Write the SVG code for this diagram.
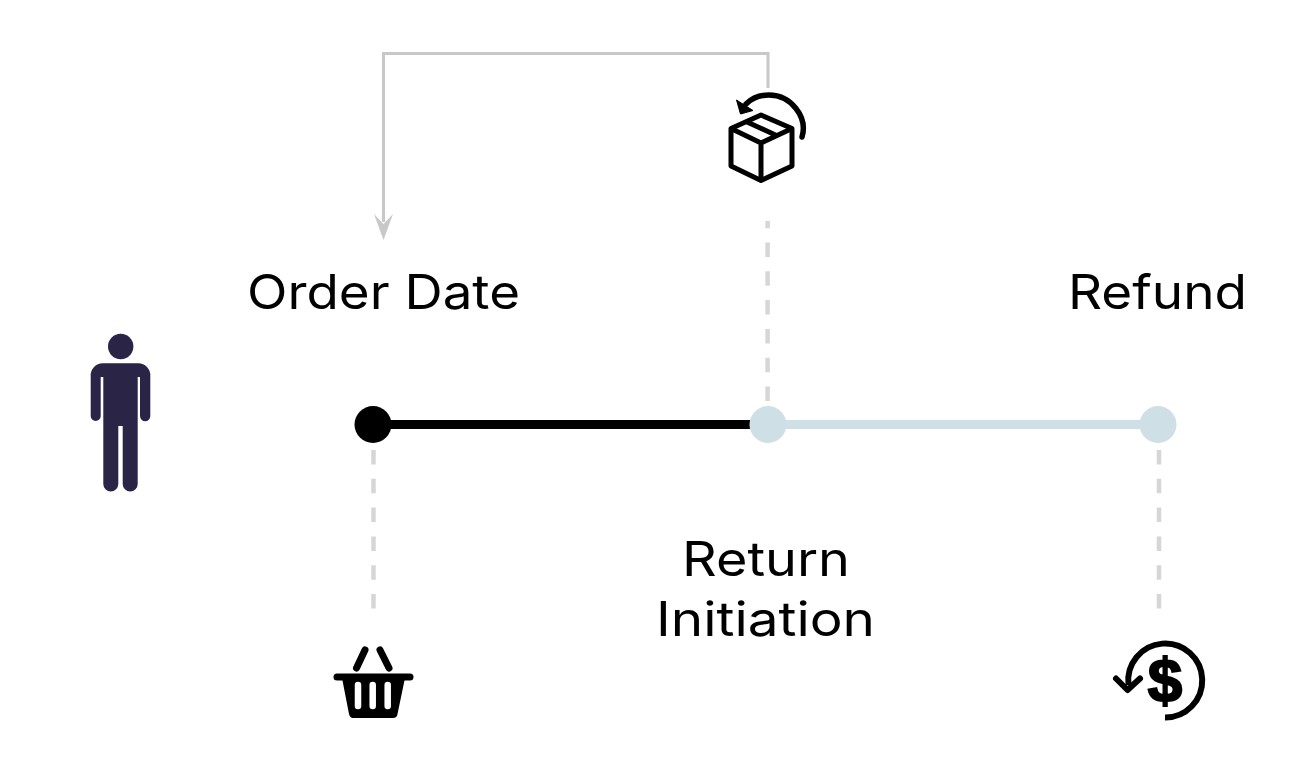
<svg xmlns="http://www.w3.org/2000/svg" width="1312" height="780" viewBox="0 0 1312 780">
<style>
.lbl{font-family:"Inter","Noto Sans",sans-serif;font-size:48px;font-weight:380;fill:#000}
.dash{fill:none;stroke:#d6d6d6;stroke-width:4.500;stroke-dasharray:14.500 14.300}
.ico{fill:none;stroke:#000}
.gray{fill:none;stroke:#c8c8c8;stroke-width:3}
</style>
<rect width="1312" height="780" fill="#fff"/>
<g id="connectors">
<path class="gray" d="M768 88V53.500H383.500V222"/>
<path d="M374 214L383.500 240L393 214L383.500 224Z" fill="#c8c8c8"/>
<path class="dash" d="M767.600 401V221"/>
<path class="dash" d="M373.500 450V610"/>
<path class="dash" d="M1159 450V610"/>
<path d="M373 424.500H768" stroke="#000" stroke-width="9" fill="none"/>
<path d="M768 424.500H1158" stroke="#cfdfe6" stroke-width="9" fill="none"/>
</g>
<g id="node-order"><circle cx="373" cy="424.500" r="18.500" fill="#000"/></g>
<g id="node-return"><circle cx="768" cy="424.500" r="18.500" fill="#cfdfe6"/></g>
<g id="node-refund"><circle cx="1158" cy="424.500" r="18.500" fill="#cfdfe6"/></g>
<g id="label-order"><text class="lbl" x="247" y="309" textLength="273" lengthAdjust="spacingAndGlyphs">Order Date</text></g>
<g id="label-refund"><text class="lbl" x="1068" y="309" textLength="179" lengthAdjust="spacingAndGlyphs">Refund</text></g>
<g id="label-return"><text class="lbl" x="682" y="576" textLength="168" lengthAdjust="spacingAndGlyphs">Return</text><text class="lbl" x="656" y="636" textLength="219" lengthAdjust="spacingAndGlyphs">Initiation</text></g>
<g id="person" fill="#2a2547">
<circle cx="120.700" cy="346.500" r="12.700"/>
<path d="M103 363.300H138A12 12 0 0 1 150.300 376V416A5.150 5.150 0 0 1 140 416V377H137.700V484A7.500 7.500 0 0 1 122.700 484V426H118.300V484A7.500 7.500 0 0 1 103.300 484V377H100.700V416A5 5 0 0 1 90.700 416V376A12 12 0 0 1 103 363.300Z"/>
</g>
<g id="icon-box" class="ico" stroke-width="5" stroke-linejoin="round">
<path d="M761 115L792 128.500V166L761 180.500L731 166V128.500Z"/>
<path d="M731 128.500L761 143L792 128.500M761 143V180M746 121.500L776.500 135.500"/>
<path d="M802 137C808 117 791 95 769 95C760 95 752 98 746 104" stroke-width="5.500" stroke-linecap="round"/>
<path d="M736.500 100L740.500 114L753 110.500Z" fill="#000" stroke="#000" stroke-width="1"/>
</g>
<g id="icon-basket">
<path d="M337 677H410" stroke="#000" stroke-width="7" stroke-linecap="round" fill="none"/>
<path d="M342 678H405L397.500 714Q397 718 393 718H353Q350 718 349 714Z" fill="#000"/>
<path d="M365 650L356.500 668M380 650L389 668" stroke="#000" stroke-width="7" stroke-linecap="round" fill="none"/>
<g stroke="#fff" stroke-width="6.500" stroke-linecap="round"><path d="M358 685V706M372.700 685V706M387.700 685V706"/></g>
</g>
<g id="icon-refund">
<path class="ico" d="M1165 717.500A37 37 0 1 0 1128.500 685" stroke-width="6"/>
<path class="ico" d="M1116 678.500L1127.500 690L1140 678.500" stroke-width="6" stroke-linecap="round" stroke-linejoin="round"/>
<text x="1165" y="701" text-anchor="middle" font-family="'Liberation Sans',Arial,sans-serif" font-weight="700" font-size="62" fill="#000" stroke="#000" stroke-width="2">$</text>
</g>
</svg>
